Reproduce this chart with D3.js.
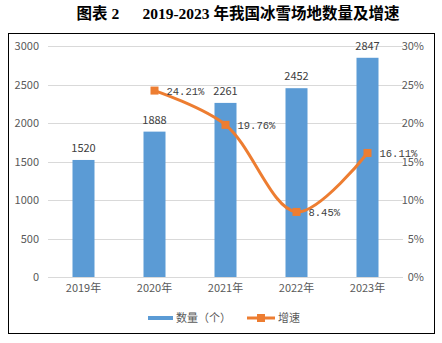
<!DOCTYPE html>
<html><head><meta charset="utf-8">
<script src="https://cdn.jsdelivr.net/npm/d3@7"></script>
<style>body{margin:0;background:#fff}svg{display:block}</style>
</head><body>
<script>
const years = ["2019年","2020年","2021年","2022年","2023年"];
const counts = [1520,1888,2261,2452,2847];
const growth = [null,24.21,19.76,8.45,16.11];
const leftTicks = [0,500,1000,1500,2000,2500,3000];
const rightTicks = [0,5,10,15,20,25,30];

const W=442,H=343;
const svg=d3.select("body").append("svg").attr("width",W).attr("height",H);
svg.append("rect").attr("width",W).attr("height",H).attr("fill","#fff");

svg.append("text").attr("x",238).attr("y",19).attr("text-anchor","middle")
  .attr("font-family","'Liberation Serif','Noto Sans CJK SC',serif").attr("font-weight","bold")
  .attr("font-size",15.5).attr("fill","#000").attr("xml:space","preserve")
  .text("图表 2      2019-2023 年我国冰雪场地数量及增速");

svg.append("rect").attr("x",8.5).attr("y",33.5).attr("width",426).attr("height",300)
  .attr("fill","none").attr("stroke","#000").attr("stroke-width",1);

const x=d3.scaleBand().domain(years).range([48,403]);
const y=d3.scaleLinear().domain([0,3000]).range([277,46]);
const y2=d3.scaleLinear().domain([0,30]).range([277,46]);
const sans="'Noto Sans CJK SC','DejaVu Sans',sans-serif";

// gridlines
svg.append("g").selectAll("line").data(leftTicks).join("line")
  .attr("x1",48).attr("x2",403).attr("y1",d=>Math.round(y(d))+0.5).attr("y2",d=>Math.round(y(d))+0.5)
  .attr("stroke","#D9D9D9").attr("stroke-width",1);

// left axis
const la=svg.append("g").attr("transform","translate(39,0)")
  .call(d3.axisLeft(y).tickValues(leftTicks).tickSize(0).tickPadding(0).tickFormat(d3.format("d")));
la.select(".domain").remove();
la.selectAll("text").attr("font-family",sans).attr("font-size",11).attr("fill","#595959");

// right axis
const ra=svg.append("g").attr("transform","translate(424,0)")
  .call(d3.axisLeft(y2).tickValues(rightTicks).tickSize(0).tickPadding(0).tickFormat(d=>d+"%"));
ra.select(".domain").remove();
ra.selectAll("text").attr("font-family",sans).attr("font-size",11).attr("fill","#595959");

// x axis labels
const xa=svg.append("g").attr("transform","translate(0,284)")
  .call(d3.axisBottom(x).tickSize(0).tickPadding(0));
xa.select(".domain").remove();
xa.selectAll("text").attr("font-family",sans).attr("font-size",11).attr("fill","#595959");

// bars
const bw=22;
svg.append("g").selectAll("rect").data(counts).join("rect")
  .attr("x",(d,i)=>x(years[i])+x.bandwidth()/2-bw/2).attr("width",bw)
  .attr("y",d=>y(d)).attr("height",d=>y(0)-y(d)).attr("fill","#5B9BD5");
svg.append("g").selectAll("text").data(counts).join("text")
  .attr("x",(d,i)=>x(years[i])+x.bandwidth()/2).attr("y",d=>y(d)-8)
  .attr("text-anchor","middle").attr("font-family",sans).attr("font-size",11).attr("fill","#404040")
  .text(d=>d);

// line
const pts=growth.map((g,i)=>({g,i})).filter(p=>p.g!==null);
const line=d3.line().x(p=>x(years[p.i])+x.bandwidth()/2).y(p=>y2(p.g)).curve(d3.curveCatmullRom.alpha(0.5));
svg.append("path").datum(pts).attr("d",line).attr("fill","none").attr("stroke","#ED7D31").attr("stroke-width",3).attr("stroke-linecap","round");
svg.append("g").selectAll("rect").data(pts).join("rect")
  .attr("x",p=>x(years[p.i])+x.bandwidth()/2-4).attr("y",p=>y2(p.g)-4).attr("width",8).attr("height",8).attr("fill","#ED7D31");
svg.append("g").selectAll("text").data(pts).join("text")
  .attr("x",p=>x(years[p.i])+x.bandwidth()/2+12).attr("y",p=>y2(p.g)+4)
  .attr("font-family","'Liberation Mono',monospace").attr("font-size",10.5).attr("fill","#404040")
  .text(p=>p.g.toFixed(2)+"%");

// legend
const lg=svg.append("g");
lg.append("line").attr("x1",148).attr("x2",173).attr("y1",318).attr("y2",318).attr("stroke","#5B9BD5").attr("stroke-width",4);
lg.append("text").attr("x",176).attr("y",322).attr("font-family",sans).attr("font-size",11).attr("fill","#595959").text("数量（个）");
lg.append("line").attr("x1",247).attr("x2",275).attr("y1",318).attr("y2",318).attr("stroke","#ED7D31").attr("stroke-width",3);
lg.append("rect").attr("x",257).attr("y",314).attr("width",8).attr("height",8).attr("fill","#ED7D31");
lg.append("text").attr("x",278).attr("y",322).attr("font-family",sans).attr("font-size",11).attr("fill","#595959").text("增速");
</script>
</body></html>
